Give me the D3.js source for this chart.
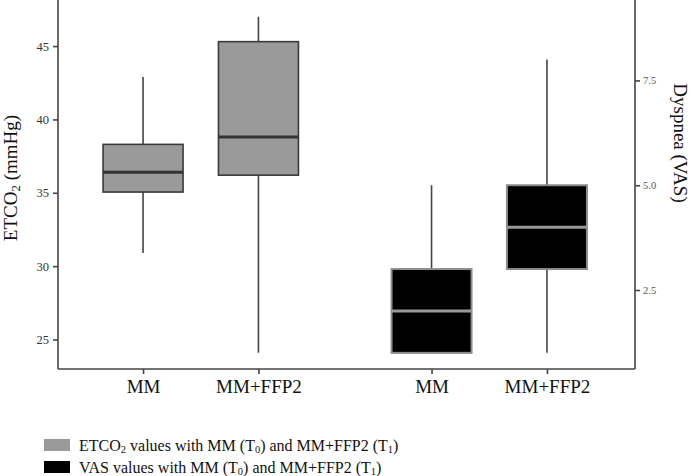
<!DOCTYPE html>
<html><head><meta charset="utf-8">
<script src="https://cdn.jsdelivr.net/npm/d3@7"></script>
<style>body{margin:0;background:#fff}svg{display:block}text{font-family:"Liberation Serif","Times New Roman",serif}</style>
</head><body><svg id="c" width="694" height="476"></svg>
<script>
// Data
const categories = ["MM", "MM+FFP2", "MM", "MM+FFP2"];
const positions = [1, 2, 3.5, 4.5];
const measure = ["ETCO2", "ETCO2", "VAS", "VAS"];
const whiskerLow = [30.9, 24.1, 1.0, 1.0];
const q1 = [35.05, 36.2, 1.0, 3.0];
const median = [36.4, 38.8, 2.0, 4.0];
const q3 = [38.3, 45.3, 3.0, 5.0];
const whiskerHigh = [42.9, 47.0, 5.0, 8.0];
const leftTicks = [25, 30, 35, 40, 45];
const rightTicks = [2.5, 5.0, 7.5];
const legendLabels = [
  ["ETCO", "2", " values with MM (T", "0", ") and MM+FFP2 (T", "1", ")"],
  ["VAS values with MM (T", "0", ") and MM+FFP2 (T", "1", ")"]
];

const FONT = '"Liberation Serif","Times New Roman",serif';
const svg = d3.select("#c");
const L = 58, R = 635, T = 0, B = 369;
const x = d3.scaleLinear().domain([0.263, 5.263]).range([L, R]);
const yL = d3.scaleLinear().domain([22.99, 48.14]).range([B, T]);
const yR = d3.scaleLinear().domain([0.615, 9.42]).range([B, T]);
const axisCol = "#444";

// Axes
const gl = svg.append("g").attr("transform", `translate(${L},0)`)
  .call(d3.axisLeft(yL).tickValues(leftTicks).tickSize(5).tickPadding(4).tickFormat(d3.format("d")));
gl.selectAll("text").attr("font-size", 12.5).attr("fill", "#333");
const gr = svg.append("g").attr("transform", `translate(${R},0)`)
  .call(d3.axisRight(yR).tickValues(rightTicks).tickSize(5).tickPadding(3).tickFormat(d3.format(".1f")));
gr.selectAll("text").attr("font-size", 10.5).attr("fill", "#555");
const gb = svg.append("g").attr("transform", `translate(0,${B})`)
  .call(d3.axisBottom(x).tickValues(positions).tickSize(5).tickPadding(6).tickFormat((d, i) => categories[i]));
gb.selectAll("text").attr("font-size", 19).attr("fill", "#111");
[gl, gr, gb].forEach(g => {
  g.attr("font-family", FONT);
  g.selectAll("text").attr("font-family", FONT);
  g.select(".domain").attr("stroke", axisCol).attr("stroke-width", 1.6);
  g.selectAll(".tick line").attr("stroke", axisCol).attr("stroke-width", 1.6);
});
gl.select(".domain").attr("d", `M0,${B}V${T}`);
gr.select(".domain").attr("d", `M0,${B}V${T}`);
gb.select(".domain").attr("d", `M${L},0H${R}`);

// Axis titles
svg.append("text").attr("transform", `translate(17,${178}) rotate(-90)`).attr("text-anchor", "middle")
  .attr("font-size", 19).attr("fill", "#111")
  .call(t => { t.append("tspan").text("ETCO"); t.append("tspan").text("2").attr("font-size", 13).attr("dy", 3);
               t.append("tspan").text(" (mmHg)").attr("dy", -3); });
svg.append("text").attr("transform", `translate(674,${143}) rotate(90)`).attr("text-anchor", "middle")
  .attr("font-size", 19).attr("fill", "#111").text("Dyspnea (VAS)");

// Boxes
const bw = 80;
const data = categories.map((c, i) => ({ c, p: positions[i], m: measure[i], lo: whiskerLow[i], q1: q1[i], med: median[i], q3: q3[i], hi: whiskerHigh[i] }));
const style = {
  ETCO2: { fill: "#9a9a9a", stroke: "#3a3a3a", med: "#333", sw: 1.6, y: yL },
  VAS: { fill: "#000", stroke: "#8c8c8c", med: "#999", sw: 2, y: yR }
};
const g = svg.append("g");
data.forEach(d => {
  const s = style[d.m], y = s.y, cx = x(d.p);
  g.append("line").attr("x1", cx).attr("x2", cx).attr("y1", y(d.hi)).attr("y2", y(d.q3)).attr("stroke", "#444").attr("stroke-width", 1.6);
  g.append("line").attr("x1", cx).attr("x2", cx).attr("y1", y(d.q1)).attr("y2", y(d.lo)).attr("stroke", "#444").attr("stroke-width", 1.6);
  g.append("rect").attr("x", cx - bw / 2).attr("width", bw).attr("y", y(d.q3)).attr("height", y(d.q1) - y(d.q3))
    .attr("fill", s.fill).attr("stroke", s.stroke).attr("stroke-width", s.sw);
  g.append("line").attr("x1", cx - bw / 2).attr("x2", cx + bw / 2).attr("y1", y(d.med)).attr("y2", y(d.med))
    .attr("stroke", s.med).attr("stroke-width", 3);
});

// Legend
const legFill = ["#9a9a9a", "#000"];
legendLabels.forEach((parts, i) => {
  const yy = 439 + i * 22;
  svg.append("rect").attr("x", 44).attr("y", yy).attr("width", 26).attr("height", 12).attr("fill", legFill[i]);
  const t = svg.append("text").attr("x", 79).attr("y", yy + 12).attr("font-size", 16).attr("fill", "#111");
  parts.forEach((p, j) => {
    const sub = /^[0-9]$/.test(p);
    const ts = t.append("tspan").text(p);
    if (sub) ts.attr("font-size", 10.5).attr("dy", 2);
    else if (j > 0 && /^[0-9]$/.test(parts[j - 1])) ts.attr("dy", -2);
  });
});
</script></body></html>
